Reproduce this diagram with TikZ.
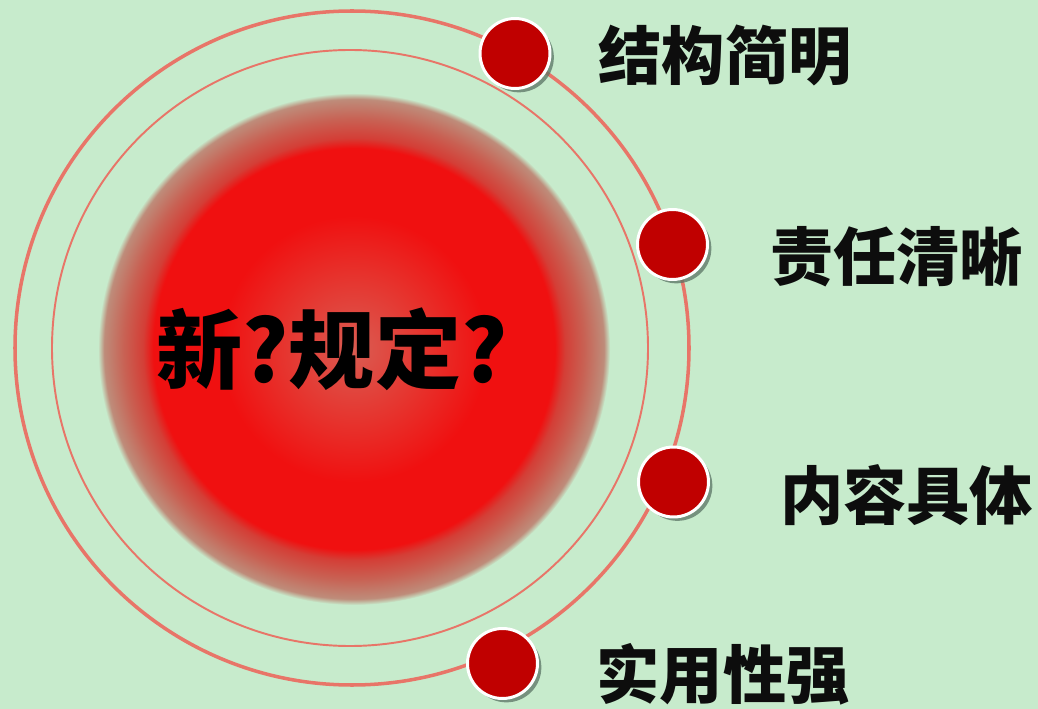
\documentclass[tikz,border=0pt]{standalone}
\usepackage{fontspec}
\newfontfamily\cjk{Noto Sans CJK SC Black}
\usetikzlibrary{shadows}

\definecolor{bggreen}{RGB}{199,235,204}
\definecolor{ringred}{RGB}{232,117,104}
\definecolor{dotred}{RGB}{192,0,0}
\definecolor{shadowgray}{RGB}{90,115,100}
\definecolor{corepink}{RGB}{218,92,82}
\definecolor{coremid}{RGB}{230,52,46}
\definecolor{corered}{RGB}{240,16,16}
\definecolor{rimred}{RGB}{212,62,54}
\definecolor{rimbrown}{RGB}{200,98,84}
\definecolor{rimgray}{RGB}{190,140,122}

% red ball with soft brownish rim (25bp = radius)
\pgfdeclareradialshading{core}{\pgfpoint{0bp}{0bp}}{%
  color(0bp)=(corepink); color(7bp)=(coremid); color(13bp)=(corered);
  color(19.6bp)=(corered); color(20.6bp)=(rimred); color(22.5bp)=(rimbrown);
  color(24.4bp)=(rimgray); color(25bp)=(bggreen); color(50bp)=(bggreen)}

\begin{document}
\begin{tikzpicture}[x=0.02cm,y=-0.02cm,
    dot/.style={circle, minimum size=1.4cm, inner sep=0pt, fill=dotred,
      draw=white, line width=1.7pt,
      drop shadow={shadow xshift=2.2pt, shadow yshift=-2.2pt, fill=shadowgray, opacity=.75}},
    itemtext/.style={font=\cjk\fontsize{36}{40}\selectfont, text=black!95, inner sep=0pt}]
    \fill[bggreen] (0,0) rectangle (1038,709);
    \useasboundingbox (0,0) rectangle (1038,709);
    % rings
    \draw[ringred, line width=2pt] (352,348) circle (337);
    \draw[ringred, line width=1.1pt] (350,348) circle (298);
    \shade[shading=core] (354,349) circle (256);
    \node[font=\cjk\fontsize{49}{55}\selectfont, inner sep=0pt] (title) at (332,349) {新?规定?};
    % points on the ring
    \node[dot] (d1) at (515,53.5) {};
    \node[dot] (d2) at (672.5,244.5) {};
    \node[dot] (d3) at (673.5,482) {};
    \node[dot] (d4) at (502.5,663.5) {};
    \node[itemtext] (t1) at (725,55.5) {结构简明};
    \node[itemtext] (t2) at (896.5,257) {责任清晰};
    \node[itemtext] (t3) at (906.5,495) {内容具体};
    \node[itemtext] (t4) at (723,674) {实用性强};
\end{tikzpicture}
\end{document}
